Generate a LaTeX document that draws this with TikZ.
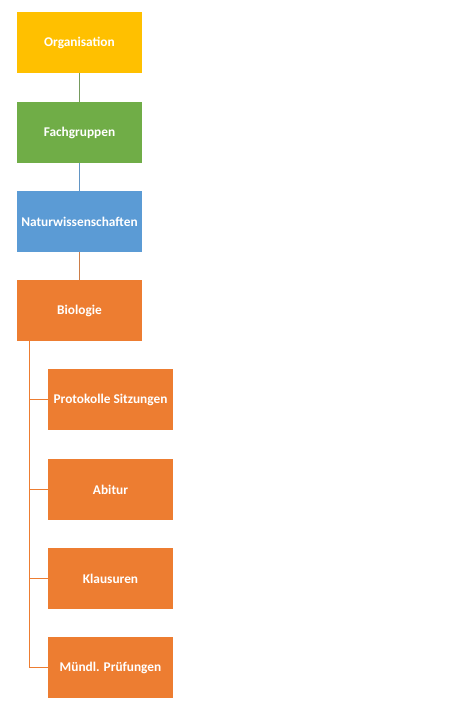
\documentclass[tikz,border=0pt]{standalone}
\usepackage{fontspec}
\setmainfont{Carlito}
\usetikzlibrary{positioning}
\definecolor{gold}{HTML}{FFC000}
\definecolor{grassgreen}{HTML}{70AD47}
\definecolor{skyblue}{HTML}{5B9BD5}
\definecolor{bioorange}{HTML}{ED7D31}

\begin{document}
\begin{tikzpicture}[x=0.75pt, y=-0.75pt,
    box/.style={minimum width=93.75pt, minimum height=45.75pt, inner sep=0pt,
      text=white, font=\fontsize{10}{12}\selectfont\bfseries},
    link/.style={line width=0.75pt}]
  \useasboundingbox (0,0) rectangle (459,710);

  % Hauptkette
  \node[box, fill=gold] (org) at (79.5,42.5) {Organisation};
  \node[box, fill=grassgreen] (fach) at (79.5,132.5) {Fachgruppen};
  \node[box, fill=skyblue] (natur) at (79.5,221.5) {Naturwissenschaften};
  \node[box, fill=bioorange] (bio) at (79.5,310.5) {Biologie};

  \draw[link, grassgreen!60!gray] (org) -- (fach);
  \draw[link, skyblue!80!gray] (fach) -- (natur);
  \draw[link, bioorange!70!gray] (natur) -- (bio);

  % Unterordner Biologie
  \node[box, fill=bioorange] (prot) at (110.5,399.5) {Protokolle Sitzungen};
  \node[box, fill=bioorange] (abi) at (110.5,489.5) {Abitur};
  \node[box, fill=bioorange] (klaus) at (110.5,578.5) {Klausuren};
  \node[box, fill=bioorange] (muendl) at (110.5,667.5) {Mündl. Prüfungen};

  \coordinate (trunk) at (29,341);
  \foreach \n in {prot, abi, klaus, muendl}
    \draw[link, bioorange] (trunk) |- (\n.west);
\end{tikzpicture}
\end{document}
